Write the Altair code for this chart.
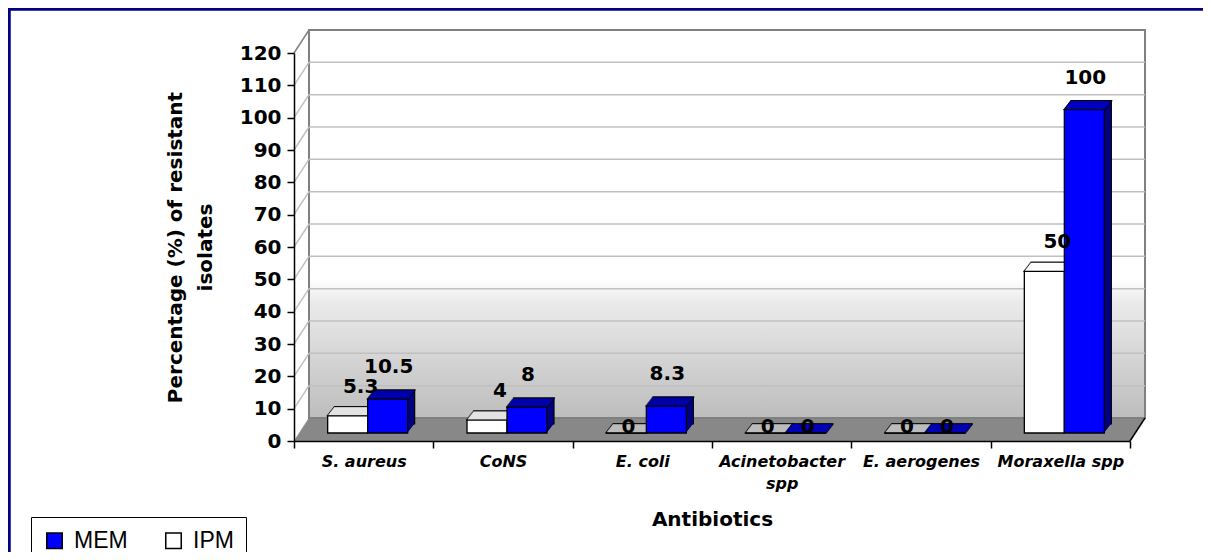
import altair as alt
import pandas as pd

# ---------------- data ----------------
categories = ["S. aureus", "CoNS", "E. coli", "Acinetobacter spp", "E. aerogenes", "Moraxella spp"]
ipm_values = [5.3, 4, 0, 0, 0, 50]
mem_values = [10.5, 8, 8.3, 0, 0, 100]
series_order = ["MEM", "IPM"]
y_ticks = [0, 10, 20, 30, 40, 50, 60, 70, 80, 90, 100, 110, 120]

# ---------------- layout / style ----------------
FONT = "DejaVu Sans"
LEG_FONT = "Liberation Sans"
W, H = 836, 388
PAD = {"left": 286, "top": 45, "right": 73, "bottom": 111}
DX, DY = 15, -23          # depth of back wall
BAR_W = 40
LIFT = -8                 # bars stand a bit behind the front edge
N = 9                     # extrusion steps for the 3D faces
STEP_X = 7 / N
STEP_Y = -1

styles = {
    "IPM": dict(front="#FFFFFF", top="#FFFFFF", top_zero="#C8C8C8", side="#FFFFFF",
                cx=-16, lab_dx=-3, lab_dy=-23, zero_dx=-14),
    "MEM": dict(front="#0000FF", top="#0000C0", top_zero="#0000C0", side="#000080",
                cx=24, lab_dx=25, lab_dy=-26, zero_dx=26),
}

df = pd.DataFrame({
    "category": categories * 2,
    "series": ["IPM"] * len(categories) + ["MEM"] * len(categories),
    "value": ipm_values + mem_values,
})

xscale = alt.Scale(type="band", domain=categories, paddingInner=0, paddingOuter=0)
yscale = alt.Scale(domain=[0, 120], nice=False, zero=False)
cscale = alt.Scale(domain=series_order, range=["#0000FF", "#FFFFFF"])

xaxis = alt.Axis(
    tickBand="extent", tickSize=7, tickWidth=1.5, tickColor="black",
    domainColor="black", domainWidth=1.5, grid=False,
    labelFont=FONT, labelFontSize=16, labelFontStyle="italic", labelFontWeight="bold",
    labelColor="black", labelAngle=0, labelPadding=5, labelLineHeight=22,
    labelExpr="length(datum.label) > 15 ? split(datum.label, ' ') : datum.label",
    title="Antibiotics", titleFont=FONT, titleFontSize=20, titleFontWeight="bold",
    titleColor="black", titlePadding=18, zindex=1,
)
yaxis = alt.Axis(
    values=y_ticks, tickSize=7, tickWidth=1.5, tickColor="black",
    domainColor="black", domainWidth=1.5, grid=False,
    labelFont=FONT, labelFontSize=20, labelFontWeight="bold", labelColor="black",
    labelPadding=6, labelFlush=False, labelOverlap=False,
    title=["Percentage (%) of resistant", "isolates"], titleFont=FONT, titleFontSize=20,
    titleFontWeight="bold", titleColor="black", titlePadding=24, titleLineHeight=30,
    zindex=1,
)
legend = alt.Legend(
    orient="none", legendX=-263, legendY=464, direction="horizontal", title=None,
    symbolType="square", symbolSize=240, symbolStrokeColor="black", symbolStrokeWidth=1.5,
    labelFont=LEG_FONT, labelFontSize=23, labelColor="black", labelOffset=8,
    columnPadding=34, padding=12, strokeColor="black", fillColor="white",
)


def xenc():
    return alt.X("category:N", scale=xscale, axis=xaxis, sort=categories)


def yenc(field="value:Q"):
    return alt.Y(field, scale=yscale, axis=yaxis)


one = alt.Data(values=[{"a": 1}])
layers = []

# back wall with gradient
wall_fill = alt.LinearGradient(
    gradient="linear", x1=0, x2=0, y1=0, y2=1,
    stops=[alt.GradientStop(color="#FFFFFF", offset=0),
           alt.GradientStop(color="#FFFFFF", offset=0.64),
           alt.GradientStop(color="#EBEBEB", offset=0.7),
           alt.GradientStop(color="#BDBDBD", offset=1)],
)
layers.append(alt.Chart(one).mark_rect(fill=wall_fill, stroke="#808080", strokeWidth=2).encode(
    x=alt.value(DX), x2=alt.value(W + DX), y=alt.value(DY), y2=alt.value(H + DY)))

# wall gridlines
layers.append(alt.Chart(pd.DataFrame({"t": y_ticks[1:-1]})).mark_rule(
    color="#C0C0C0", strokeWidth=1.5, yOffset=DY).encode(
    x=alt.value(DX), x2=alt.value(W + DX), y=yenc("t:Q")))

# left side wall diagonals
layers.append(alt.Chart(pd.DataFrame({"t": y_ticks[1:]})).mark_rule(
    strokeWidth=1.5, y2Offset=DY).encode(
    x=alt.value(0), x2=alt.value(DX),
    y=yenc("t:Q"), y2=alt.Y2("t:Q"),
    color=alt.condition("datum.t == 120", alt.value("#808080"), alt.value("#C0C0C0"))))

# floor (parallelogram built from 1px strips)
depth = -DY
for k in range(0, depth + 1):
    sx = k * DX / depth
    layers.append(alt.Chart(one).mark_rule(color="#808080", strokeWidth=1.4).encode(
        x=alt.value(sx), x2=alt.value(W + sx), y=alt.value(H - k)))
layers.append(alt.Chart(one).mark_rule(color="black", strokeWidth=1.5).encode(
    x=alt.value(W), x2=alt.value(W + DX), y=alt.value(H), y2=alt.value(H + DY)))

# bars (IPM first, then MEM so MEM front face occludes IPM depth)
for s in ["IPM", "MEM"]:
    st = styles[s]
    base = alt.Chart(df).transform_filter(alt.datum.series == s)
    # side face / extrusion
    for k in range(N, 0, -1):
        kw = dict(width=BAR_W, xOffset=st["cx"] + k * STEP_X,
                  yOffset=LIFT + k * STEP_Y, y2Offset=LIFT + k * STEP_Y, fill=st["side"])
        if k == N:
            kw.update(stroke="black", strokeWidth=1.2)
        layers.append(base.mark_bar(**kw).encode(x=xenc(), y=yenc(), y2=alt.Y2Datum(0)))
    # top face outline (slightly wider black lines)
    for k in range(0, N + 1):
        layers.append(base.mark_bar(
            width=BAR_W + 2, xOffset=st["cx"] + k * STEP_X,
            yOffset=LIFT + k * STEP_Y, y2Offset=LIFT + k * STEP_Y,
            stroke="black", strokeWidth=1.3, fillOpacity=0).encode(
            x=xenc(), y=yenc(), y2=alt.Y2("value:Q")))
    # top face colour
    for k in range(1, N):
        layers.append(base.mark_bar(
            width=BAR_W, xOffset=st["cx"] + k * STEP_X,
            yOffset=LIFT + k * STEP_Y, y2Offset=LIFT + k * STEP_Y,
            strokeWidth=1.3, fillOpacity=0).encode(
            x=xenc(), y=yenc(), y2=alt.Y2("value:Q"),
            stroke=alt.condition("datum.value == 0", alt.value(st["top_zero"]), alt.value(st["top"]))))
    # front face
    layers.append(base.mark_bar(
        width=BAR_W, xOffset=st["cx"], yOffset=LIFT, y2Offset=LIFT,
        stroke="black", strokeWidth=1.3).encode(
        x=xenc(), y=yenc(), y2=alt.Y2Datum(0),
        color=alt.Color("series:N", scale=cscale, legend=legend)))

# value labels
for s in ["IPM", "MEM"]:
    st = styles[s]
    base = alt.Chart(df).transform_filter(alt.datum.series == s)
    txt = dict(font=FONT, fontSize=20, fontWeight="bold", color="black", baseline="alphabetic")
    layers.append(base.transform_filter(alt.datum.value > 0).mark_text(
        dx=st["lab_dx"], dy=LIFT + st["lab_dy"], **txt).encode(
        x=xenc(), y=yenc(), text=alt.Text("value:Q", format="~g")))
    layers.append(base.transform_filter(alt.datum.value == 0).mark_text(
        dx=st["zero_dx"], dy=LIFT, **txt).encode(
        x=xenc(), y=yenc(), text=alt.Text("value:Q", format="~g")))

# outer navy frame
layers.append(alt.Chart(one).mark_rect(
    stroke="#000080", strokeWidth=3.5, fillOpacity=0, clip=False).encode(
    x=alt.value(-PAD["left"] + 1), x2=alt.value(W + 300),
    y=alt.value(-PAD["top"] + 1), y2=alt.value(H + 300)))

chart = alt.layer(*layers).properties(
    width=W, height=H,
    autosize=alt.AutoSizeParams(type="none"),
    padding=PAD, background="white",
).configure_view(strokeWidth=0)

chart.save("out.html", embed_options={"renderer": "svg", "actions": False})
